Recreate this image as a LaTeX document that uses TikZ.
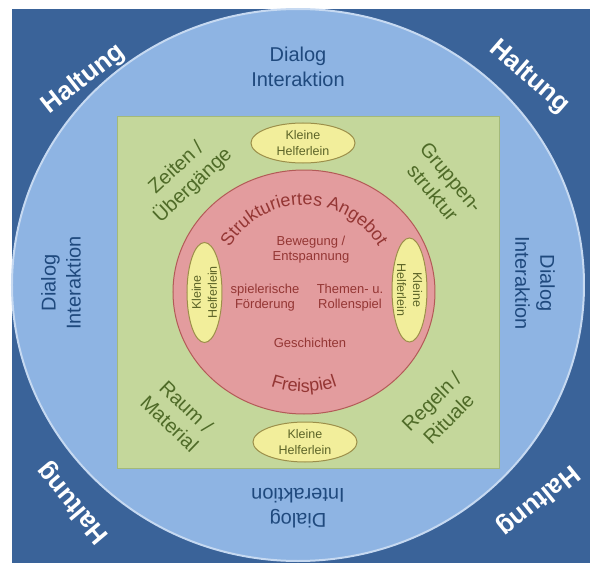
\documentclass[tikz,border=0pt]{standalone}
\usepackage{fontspec}
\setmainfont{Liberation Sans}
\usetikzlibrary{decorations.text}

\definecolor{haltungblue}{HTML}{3A6399}
\definecolor{dialogblue}{HTML}{8EB4E3}
\definecolor{rimblue}{HTML}{C6D9F1}
\definecolor{dialogtext}{HTML}{1F497D}
\definecolor{rahmengreen}{HTML}{C4D79B}
\definecolor{rahmenline}{HTML}{A3B97A}
\definecolor{rahmentext}{HTML}{4F6B28}
\definecolor{angebotred}{HTML}{E39C9E}
\definecolor{angebotline}{HTML}{B35A57}
\definecolor{angebottext}{HTML}{943634}
\definecolor{helferyellow}{HTML}{F2EE9B}
\definecolor{helferline}{HTML}{9C8F4A}
\definecolor{helfertext}{HTML}{5C6428}

\tikzset{
  haltung/.style={text=white, font=\fontsize{26}{30}\selectfont\bfseries},
  dialog/.style={text=dialogtext, align=center, font=\fontsize{20}{25}\selectfont},
  rahmen/.style={text=rahmentext, align=center, font=\fontsize{20}{24}\selectfont},
  angebot/.style={text=angebottext, align=center, font=\fontsize{13}{15}\selectfont},
  helfer/.style={draw=helferline, line width=1pt, fill=helferyellow},
  helferlabel/.style={text=helfertext, align=center, font=\fontsize{12.5}{16}\selectfont},
}

\begin{document}
\begin{tikzpicture}[x=1pt, y=1pt]
  \useasboundingbox (-298,-278) rectangle (292,285);
  % Haltung (outer frame)
  \fill[haltungblue] (-286,-278) rectangle (292,276);
  \node[haltung, rotate=38] (haltung-nw) at (-214,206) {Haltung};
  \node[haltung, rotate=-41] (haltung-ne) at (231,208) {Haltung};
  \node[haltung, rotate=130] (haltung-sw) at (-225,-218) {Haltung};
  \node[haltung, rotate=219] (haltung-se) at (240,-215) {Haltung};

  % Dialog / Interaktion ring
  \draw[rimblue, line width=2pt, fill=dialogblue] (0,0) ellipse [x radius=286pt, y radius=276pt];
  \node[dialog] (dialog-n) at (0,218) {Dialog\\Interaktion};
  \node[dialog, rotate=90] (dialog-w) at (-237,2) {Dialog\\Interaktion};
  \node[dialog, rotate=-90] (dialog-e) at (237,2) {Dialog\\Interaktion};
  \node[dialog, rotate=180] (dialog-s) at (0,-223) {Dialog\\Interaktion};

  % Rahmenbedingungen
  \draw[rahmenline, line width=1pt, fill=rahmengreen] (-180,-183) rectangle (202,168);
  \node[rahmen, rotate=43] (zeiten) at (-113,108) {Zeiten /\\Übergänge};
  \node[rahmen, rotate=-50] (gruppe) at (144,100) {Gruppen-\\struktur};
  \node[rahmen, rotate=-44] (raum) at (-120,-130) {Raum /\\Material};
  \node[rahmen, rotate=45] (regeln) at (142,-125) {Regeln /\\Rituale};

  % Angebot
  \draw[angebotline, line width=1pt, fill=angebotred] (6,-7) ellipse [x radius=131pt, y radius=122pt];
  \path[decorate, decoration={text along path, text align=center, text color=angebottext,
      text={|\fontsize{18}{18}\selectfont|Strukturiertes Angebot}}]
    (6,-7) ++(165:87) arc[start angle=165, end angle=15, radius=87pt];
  \path[decorate, decoration={text along path, text align=center, text color=angebottext,
      text={|\fontsize{18}{18}\selectfont|Freispiel}}]
    (6,-7) ++(235:100) arc[start angle=235, end angle=305, radius=100pt];
  \node[angebot] (bewegung) at (13,35) {Bewegung /\\Entspannung};
  \node[angebot] (foerderung) at (-33,-13) {spielerische\\Förderung};
  \node[angebot] (rollenspiel) at (52,-13) {Themen- u.\\Rollenspiel};
  \node[angebot] (geschichten) at (12,-58) {Geschichten};

  % Kleine Helferlein
  \draw[helfer] (5,142) ellipse [x radius=52pt, y radius=20pt];
  \node[helferlabel] (helfer-n) at (5,142) {Kleine\\Helferlein};
  \draw[helfer] (7,-157) ellipse [x radius=52pt, y radius=20pt];
  \node[helferlabel] (helfer-s) at (7,-157) {Kleine\\Helferlein};
  \draw[helfer] (-93.5,-7.5) ellipse [x radius=17.5pt, y radius=50pt];
  \node[helferlabel, rotate=90] (helfer-w) at (-93.5,-7.5) {Kleine\\Helferlein};
  \draw[helfer] (111.5,-5) ellipse [x radius=17.5pt, y radius=52pt];
  \node[helferlabel, rotate=-90] (helfer-e) at (111.5,-5) {Kleine\\Helferlein};
\end{tikzpicture}
\end{document}
